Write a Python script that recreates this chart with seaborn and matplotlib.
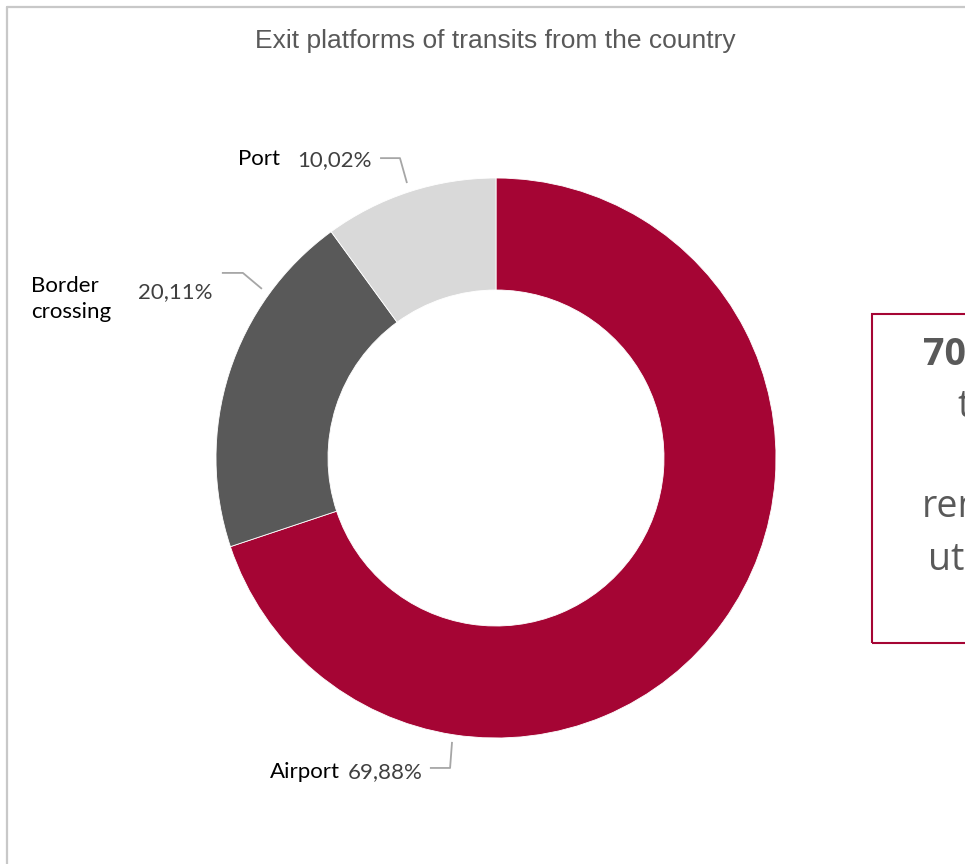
import numpy as np
import matplotlib
matplotlib.use("Agg")
import matplotlib.pyplot as plt
from matplotlib.patches import Rectangle
from matplotlib.lines import Line2D
import seaborn as sns

# Exit platform shares (percent)
categories = ["Airport", "Border crossing", "Port"]
shares = [69.88, 20.11, 10.02]
value_labels = ["69,88%", "20,11%", "10,02%"]
name_labels = ["Airport", "Border\ncrossing", "Port"]
colors = ["#A50534", "#595959", "#D9D9D9"]

title = "Exit platforms of transits from the country"

sns.set_theme(style="white")
plt.rcParams["font.family"] = ["Lato", "DejaVu Sans"]

W, H = 965, 864
fig = plt.figure(figsize=(W / 100, H / 100), dpi=100)
fig.patch.set_facecolor("white")


def fx(px):
    return px / W


def fy(py):
    return 1 - py / H


# outer frame (top and left edges visible)
fig.add_artist(Line2D([fx(7), fx(7)], [fy(7), fy(H + 5)], transform=fig.transFigure,
                      color="#C8C8C8", lw=1.6))
fig.add_artist(Line2D([fx(7), fx(W + 5)], [fy(7), fy(7)], transform=fig.transFigure,
                      color="#C8C8C8", lw=1.6))

fig.text(fx(495), fy(41), title, ha="center", va="center", fontsize=19,
         color="#595959", family=["Liberation Sans", "DejaVu Sans"])

# donut axes: centre (496, 458), radius 280 px
cx, cy, r = 496, 458, 280
ax = fig.add_axes([fx(cx - r), fy(cy + r), 2 * r / W, 2 * r / H])
ax.pie(shares, colors=colors, startangle=90, counterclock=False, radius=1.0,
       wedgeprops=dict(width=0.4, edgecolor="white", linewidth=0.6))
ax.set_xlim(-1, 1)
ax.set_ylim(-1, 1)
ax.set_aspect("equal")
ax.axis("off")

leader_kw = dict(color="#A6A6A6", lw=1.3, clip_on=False, solid_capstyle="butt")
# leader lines (data units of the pie, radius = 1)
ax.plot([-0.157, -0.164, -0.236], [-1.014, -1.107, -1.107], **leader_kw)
ax.plot([-0.836, -0.904, -0.979], [0.604, 0.661, 0.661], **leader_kw)
ax.plot([-0.318, -0.343, -0.414], [0.982, 1.071, 1.071], **leader_kw)

lab_kw = dict(fontsize=16, clip_on=False)
# Airport
ax.text(-0.261, -1.121, value_labels[0], ha="right", va="center", color="#404040", **lab_kw)
ax.text(-0.557, -1.121, name_labels[0], ha="right", va="center", color="black", **lab_kw)
# Border crossing
ax.text(-1.011, 0.593, value_labels[1], ha="right", va="center", color="#404040", **lab_kw)
ax.text(-1.661, 0.568, name_labels[1], ha="left", va="center", color="black",
        linespacing=1.37, **lab_kw)
# Port
ax.text(-0.443, 1.064, value_labels[2], ha="right", va="center", color="#404040", **lab_kw)
ax.text(-0.771, 1.067, name_labels[2], ha="right", va="center", color="black", **lab_kw)

# side note box, running off the right edge
fig.add_artist(Rectangle((fx(872), fy(643)), (1010 - 872) / W, (643 - 314) / H,
                         transform=fig.transFigure, fill=False,
                         edgecolor="#A50534", lw=1.5))
box_kw = dict(color="#595959", fontsize=27, ha="left", va="baseline",
              family=["Open Sans", "DejaVu Sans"])
fig.text(fx(923), fy(365), "70%", fontweight="bold", **box_kw)
fig.text(fx(957), fy(417), "the", **box_kw)
fig.text(fx(922), fy(517), "remaining", **box_kw)
fig.text(fx(928), fy(570), "utilized", **box_kw)

fig.savefig("out.png", dpi=100, facecolor="white")
